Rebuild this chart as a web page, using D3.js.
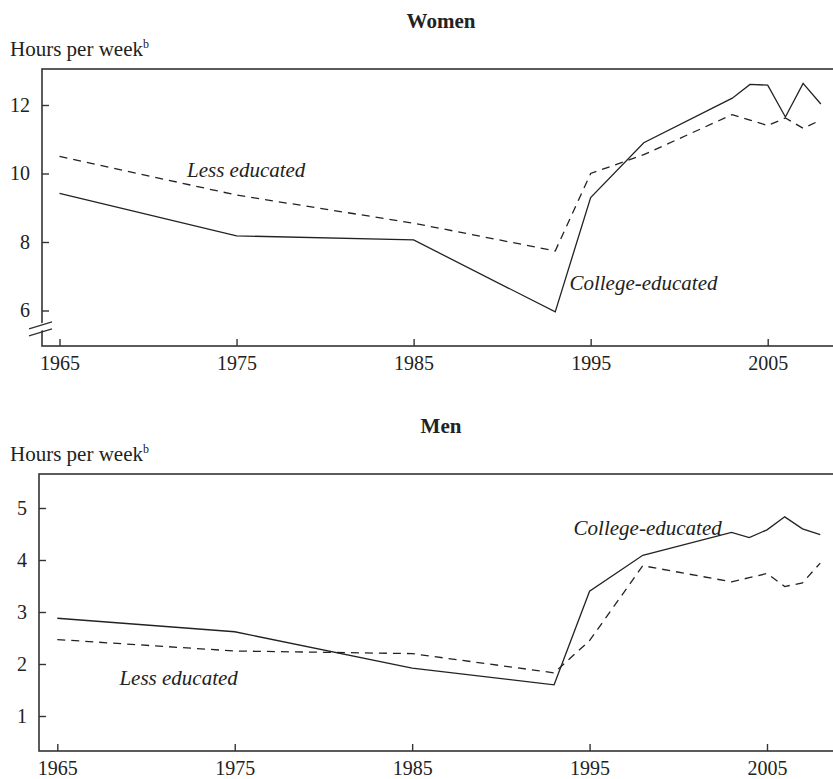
<!DOCTYPE html>
<html>
<head>
<meta charset="utf-8">
<script src="https://cdn.jsdelivr.net/npm/d3@7"></script>
<style>
  body { margin: 0; background: #fff; }
  svg text { font-family: "Liberation Serif", "DejaVu Serif", serif; fill: #222; }
</style>
</head>
<body>
<script>
// data (hours per week)
var years = [1965, 1975, 1985, 1993, 1995, 1998, 2003, 2004, 2005, 2006, 2007, 2008];
var womenCollege = [9.42, 8.18, 8.06, 5.96, 9.3, 10.9, 12.2, 12.6, 12.58, 11.65, 12.63, 12.03];
var womenLess    = [10.5, 9.37, 8.55, 7.74, 10.0, 10.55, 11.72, 11.56, 11.4, 11.62, 11.32, 11.56];
var menCollege   = [2.88, 2.62, 1.92, 1.6, 3.4, 4.09, 4.53, 4.43, 4.58, 4.83, 4.6, 4.49];
var menLess      = [2.47, 2.25, 2.2, 1.83, 2.45, 3.89, 3.58, 3.66, 3.74, 3.49, 3.56, 3.94];
var xTicks = [1965, 1975, 1985, 1995, 2005];
var womenTicks = [6, 8, 10, 12];
var menTicks = [1, 2, 3, 4, 5];

var width = 833, height = 779;

var svg = d3.select("body").append("svg")
    .attr("width", width)
    .attr("height", height);

function drawPanel(opt) {
  var g = svg.append("g");

  var x = d3.scaleLinear().domain([1965, 2005]).range([opt.x0, opt.x1]);
  var y = d3.scaleLinear().domain(opt.yDomain).range(opt.yRange);

  // title and unit label
  g.append("text")
    .attr("x", 441).attr("y", opt.top - 41)
    .attr("text-anchor", "middle")
    .style("font-weight", "bold").style("font-size", "21px")
    .text(opt.title);

  var ul = g.append("text")
    .attr("x", 10).attr("y", opt.top - 13)
    .style("font-size", "21px")
    .text("Hours per week");
  ul.append("tspan").attr("dy", -8).style("font-size", "12px").text("b");

  // frame
  g.append("rect")
    .attr("x", opt.left).attr("y", opt.top)
    .attr("width", width + 10 - opt.left).attr("height", opt.bottom - opt.top)
    .attr("fill", "none").attr("stroke", "#333").attr("stroke-width", 1.6);

  var yAxis = d3.axisLeft(y).tickValues(opt.yTicks).tickSizeInner(-7).tickSizeOuter(0)
      .tickPadding(12).tickFormat(d3.format("d"));
  var ya = g.append("g").attr("transform", "translate(" + opt.left + ",0)").call(yAxis);
  ya.select(".domain").remove();

  var xAxis = d3.axisBottom(x).tickValues(xTicks).tickSizeInner(-7).tickSizeOuter(0)
      .tickPadding(10).tickFormat(d3.format("d"));
  var xa = g.append("g").attr("transform", "translate(0," + opt.bottom + ")").call(xAxis);
  xa.select(".domain").remove();

  g.selectAll(".tick line").attr("stroke", "#333").attr("stroke-width", 1.4);
  g.selectAll(".tick text").style("font-size", "20px").attr("fill", "#222");

  var line = d3.line().x(function(d, i) { return x(years[i]); }).y(function(d) { return y(d); });

  g.append("path").datum(opt.less).attr("d", line)
    .attr("fill", "none").attr("stroke", "#222").attr("stroke-width", 1.3)
    .attr("stroke-dasharray", "8,6");
  g.append("path").datum(opt.college).attr("d", line)
    .attr("fill", "none").attr("stroke", "#222").attr("stroke-width", 1.3);

  opt.labels.forEach(function(l) {
    g.append("text")
      .attr("x", x(l.year)).attr("y", y(l.value))
      .style("font-style", "italic").style("font-size", "21px")
      .text(l.text);
  });

  // axis break marks
  if (opt.brk) {
    var yb = y(opt.brk);
    g.append("path")
      .attr("d", "M" + (opt.left - 11) + "," + (yb + 1) + "L" + (opt.left + 11) + "," + (yb - 7) +
                 "L" + (opt.left + 12) + "," + (yb) + "L" + (opt.left - 10) + "," + (yb + 8) + "Z")
      .attr("fill", "#fff");
    [0, 7].forEach(function(o) {
      g.append("line")
        .attr("x1", opt.left - 13).attr("y1", yb + 3 + o)
        .attr("x2", opt.left + 10).attr("y2", yb - 4 + o)
        .attr("stroke", "#333").attr("stroke-width", 1.4);
    });
  }
}

drawPanel({
  title: "Women", top: 69, bottom: 346, left: 42, x0: 59.5, x1: 767.7,
  yDomain: [6, 12], yRange: [310.5, 105], yTicks: womenTicks,
  college: womenCollege, less: womenLess, brk: 5.55,
  labels: [
    { text: "Less educated", year: 1972.2, value: 9.9 },
    { text: "College-educated", year: 1993.8, value: 6.6 }
  ]
});

drawPanel({
  title: "Men", top: 474, bottom: 751, left: 39, x0: 57.3, x1: 767,
  yDomain: [1, 5], yRange: [716, 508], yTicks: menTicks,
  college: menCollege, less: menLess,
  labels: [
    { text: "College-educated", year: 1994.1, value: 4.48 },
    { text: "Less educated", year: 1968.5, value: 1.6 }
  ]
});
</script>
</body>
</html>
